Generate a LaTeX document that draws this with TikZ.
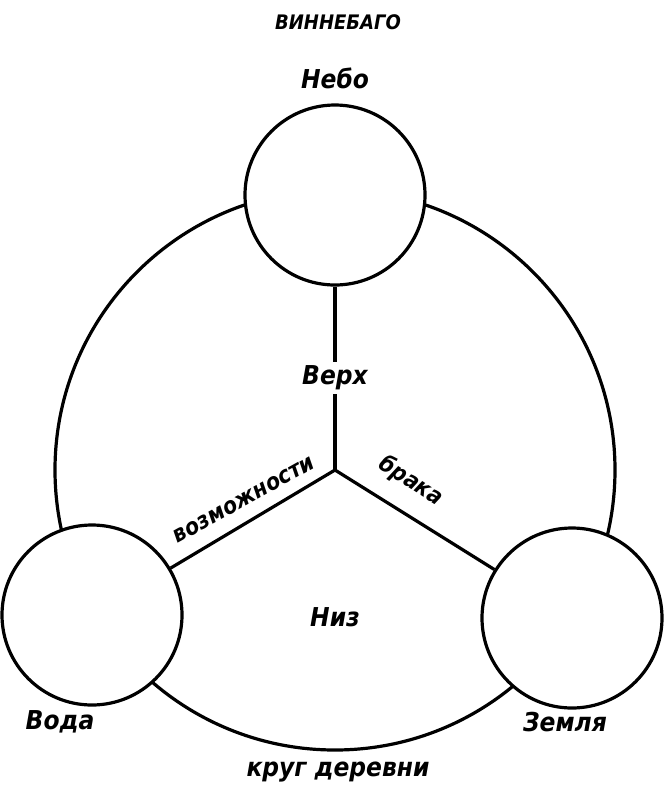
\documentclass[tikz,border=0pt]{standalone}
\usepackage{fontspec}
\setmainfont{DejaVu Sans Condensed}
\begin{document}
\begin{tikzpicture}[x=0.5pt,y=-0.5pt,
  ln/.style={line width=1.6pt},
  small/.style={circle, draw, line width=1.6pt, fill=white, minimum size=90pt, inner sep=0pt},
  lbl/.style={font=\bfseries\itshape\fontsize{13}{15}\selectfont},
  slbl/.style={font=\bfseries\itshape\fontsize{11.5}{13}\selectfont, inner sep=0.5pt}]
\useasboundingbox (0,0) rectangle (664,799);
\coordinate (c) at (335,470);
\draw[ln] (c) circle[radius=140pt];
\node[small] (sky) at (335,195) {};
\node[small] (water) at (92,615) {};
\node[small] (earth) at (572,618) {};
\draw[ln] (c) -- (sky);
\draw[ln] (c) -- (water);
\draw[ln] (c) -- (earth);
\node[font=\itshape\bfseries\fontsize{10}{12}\selectfont] (title) at (338,22) {ВИННЕБАГО};
\node[lbl] (neb) at (335,78) {Небо};
\node[lbl, fill=white, inner sep=2pt] (top) at (335,378) {Верх};
\node[lbl] (bot) at (335,617) {Низ};
\node[lbl] (voda) at (60,722) {Вода};
\node[lbl] (zem) at (565,722) {Земля};
\node[lbl] (krug) at (338,772) {круг деревни};
\node[slbl, rotate=29, anchor=south] (voz) at (248,507) {возможности};
\node[slbl, rotate=-33, anchor=south] (brak) at (404,492) {брака};
\end{tikzpicture}
\end{document}
